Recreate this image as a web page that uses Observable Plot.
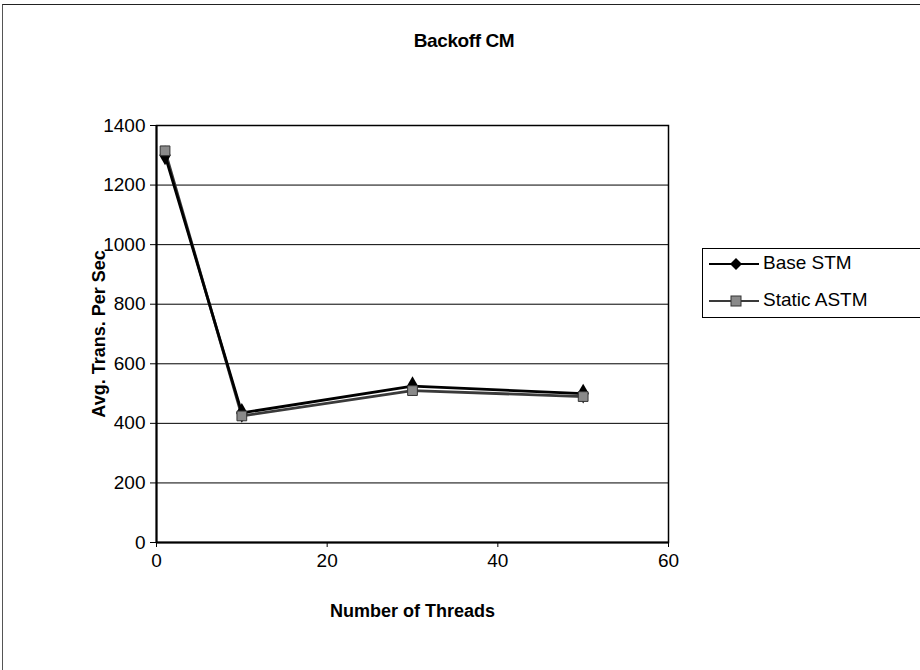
<!DOCTYPE html>
<html>
<head>
<meta charset="utf-8">
<script src="https://cdn.jsdelivr.net/npm/d3@7"></script>
<script src="https://cdn.jsdelivr.net/npm/@observablehq/plot@0.6"></script>
<style>
  body { margin: 0; background: #fff; font-family: "Liberation Sans", Arial, sans-serif; }
  #wrap { position: relative; width: 920px; height: 670px; overflow: hidden; }
  #border { position: absolute; left: 2px; top: 4px; width: 930px; height: 680px; border-left: 1px solid #555; border-top: 1px solid #222; box-sizing: border-box; }
  #title { position: absolute; left: 0; width: 928px; top: 30px; text-align: center; font-weight: bold; font-size: 19px; letter-spacing: -0.4px; }
  #legend { position: absolute; left: 702px; top: 248px; width: 240px; height: 70px; border: 1px solid #000; box-sizing: border-box; background: #fff; }
  .row { position: absolute; left: 0; height: 20px; font-size: 19px; }
  .row svg { position: absolute; left: 4px; top: 0; }
  .row span { position: absolute; left: 60px; top: -2px; white-space: nowrap; }
</style>
</head>
<body>
<div id="wrap">
  <div id="chart"></div>
  <div id="border"></div>
  <div id="title">Backoff CM</div>
  <div id="legend"></div>
</div>
<script>
const threads = [1, 10, 30, 50];
const baseSTM = [1300, 435, 525, 500];
const staticASTM = [1315, 425, 510, 490];
const seriesNames = ["Base STM", "Static ASTM"];
const yTicks = [0, 200, 400, 600, 800, 1000, 1200, 1400];
const xTicks = [0, 20, 40, 60];

const data = [
  ...threads.map((t, i) => ({ threads: t, value: baseSTM[i], series: seriesNames[0] })),
  ...threads.map((t, i) => ({ threads: t, value: staticASTM[i], series: seriesNames[1] }))
];
const base = data.filter(d => d.series === seriesNames[0]);
const stat = data.filter(d => d.series === seriesNames[1]);

const chart = Plot.plot({
  width: 920,
  height: 670,
  marginLeft: 156,
  marginRight: 252,
  marginTop: 125,
  marginBottom: 128,
  style: { fontFamily: "Liberation Sans, Arial, sans-serif", fontSize: "19px", color: "#000", background: "transparent" },
  x: { domain: [0, 60], ticks: xTicks, label: "Number of Threads" },
  y: { domain: [0, 1400], ticks: yTicks, label: "Avg. Trans. Per Sec" },
  marks: [
    Plot.gridY(yTicks, { stroke: "#000", strokeOpacity: 1, strokeWidth: 1 }),
    Plot.frame({ stroke: "#000", strokeWidth: 1.5 }),
    Plot.axisY({ ticks: yTicks, tickSize: 6, tickPadding: 5, tickFormat: d => String(d), label: "Avg. Trans. Per Sec", labelAnchor: "center", labelOffset: 64, labelArrow: "none" }),
    Plot.axisX({ ticks: xTicks, tickSize: 5, tickPadding: 6, label: "Number of Threads", labelAnchor: "center", labelOffset: 74, labelArrow: "none" }),
    Plot.ruleX([0], { stroke: "#000", strokeWidth: 2 }),
    Plot.ruleY([0], { stroke: "#000", strokeWidth: 2 }),
    Plot.line(stat, { x: "threads", y: "value", stroke: "#3a3a3a", strokeWidth: 2.8 }),
    Plot.line(base, { x: "threads", y: "value", stroke: "#000", strokeWidth: 2.8 }),
    Plot.dot(base, { x: "threads", y: "value", symbol: "diamond", fill: "#000", r: 6 }),
    Plot.dot(stat, { x: "threads", y: "value", symbol: "square", fill: "#8a8a8a", stroke: "#333", strokeWidth: 1, r: 5.5 })
  ]
});
document.getElementById("chart").appendChild(chart);
chart.querySelectorAll("g[aria-label='x-axis label'] text, g[aria-label='y-axis label'] text").forEach(t => { t.setAttribute("font-weight", "bold"); t.setAttribute("font-size", "18px"); });
chart.querySelectorAll("g[aria-label='x-axis tick label'], g[aria-label='y-axis tick label']").forEach(g => { g.setAttribute("font-size", "19px"); g.querySelectorAll("text").forEach(t => t.setAttribute("font-size", "19px")); });

// legend
const legend = document.getElementById("legend");
const rows = [
  { name: seriesNames[0], top: 5, sym: '<path d="M29,4 L35,10 L29,16 L23,10 Z" fill="#000"/>', stroke: "#000" },
  { name: seriesNames[1], top: 42, sym: '<rect x="24" y="5" width="10" height="10" fill="#8a8a8a" stroke="#333" stroke-width="1"/>', stroke: "#3a3a3a" }
];
rows.forEach(r => {
  const div = document.createElement("div");
  div.className = "row";
  div.style.top = r.top + "px";
  div.innerHTML = `<svg width="56" height="20"><line x1="2" x2="52" y1="10" y2="10" stroke="${r.stroke}" stroke-width="2"/>${r.sym}</svg><span>${r.name}</span>`;
  legend.appendChild(div);
});
</script>
</body>
</html>
